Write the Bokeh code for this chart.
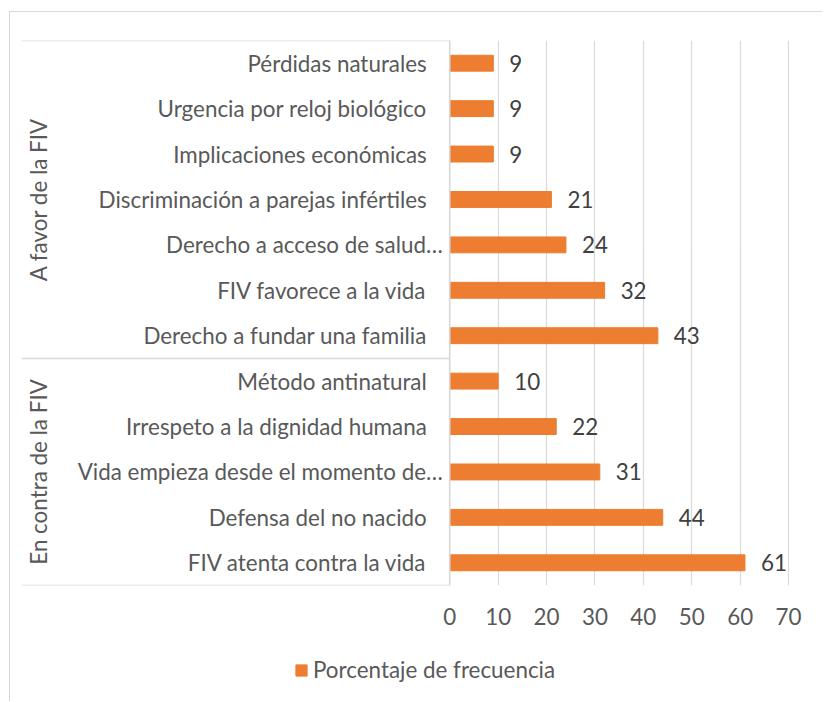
from bokeh.plotting import figure
from bokeh.layouts import column
from bokeh.models import Range1d, FixedTicker, Legend, LegendItem, ColumnDataSource
from bokeh.core.properties import value
from bokeh.embed import file_html
from bokeh.resources import INLINE
import math

# ---- data (top to bottom as in the chart) ----
groups = ["A favor de la FIV", "En contra de la FIV"]
favor_labels = ["Pérdidas naturales", "Urgencia por reloj biológico", "Implicaciones económicas",
                "Discriminación a parejas infértiles", "Derecho a acceso de salud…",
                "FIV favorece a la vida", "Derecho a fundar una familia"]
favor_values = [9, 9, 9, 21, 24, 32, 43]
contra_labels = ["Método antinatural", "Irrespeto a la dignidad humana",
                 "Vida empieza desde el momento de…", "Defensa del no nacido",
                 "FIV atenta contra la vida"]
contra_values = [10, 22, 31, 44, 61]
x_ticks = [0, 10, 20, 30, 40, 50, 60, 70]
series_name = "Porcentaje de frecuencia"

labels = favor_labels + contra_labels
values = favor_values + contra_values
n = len(labels)
ys = [n - 1 - i for i in range(n)]

FONT = value("Lato")
FS = "22.4px"
BAR = "#ED7D31"
GRID = "#d9d9d9"
TXT = "#595959"

x_start = -88.5
p = figure(frame_width=768, frame_height=545, output_backend="svg", toolbar_location=None,
           x_range=Range1d(x_start, 70.2), y_range=Range1d(-0.5, n - 0.5),
           y_axis_location=None, min_border_left=11, min_border_right=33,
           min_border_top=28, min_border_bottom=50)
p.outline_line_color = None
p.background_fill_color = "white"
p.border_fill_color = "white"

# grid
p.ygrid.visible = False
p.xgrid.ticker = FixedTicker(ticks=x_ticks)
p.xgrid.grid_line_color = GRID
p.xgrid.grid_line_width = 1.2

# x axis
ax = p.xaxis[0]
ax.ticker = FixedTicker(ticks=x_ticks)
ax.axis_line_color = None
ax.major_tick_line_color = None
ax.minor_tick_line_color = None
ax.major_label_text_font = "Lato"
ax.major_label_text_font_size = FS
ax.major_label_text_color = TXT
ax.major_label_standoff = 16

src = ColumnDataSource(dict(y=ys, v=values, lab=labels,
                            off=[-7 if s.endswith("…") else -23 for s in labels],
                            vs=[str(v) for v in values]))

bars = p.hbar(y="y", right="v", left=0, height=0.35, source=src,
              fill_color=BAR, line_color=BAR)

# category labels
p.text(x=0, y="y", text="lab", x_offset="off", source=src, text_align="right",
       text_baseline="middle", text_font=FONT, text_font_size=FS, text_color=TXT)
# data labels
p.text(x="v", y="y", text="vs", x_offset=16, source=src, text_align="left",
       text_baseline="middle", text_font=FONT, text_font_size=FS, text_color="#404040")

# group labels
n_f = len(favor_labels)
n_c = len(contra_labels)
gy = [n_c + (n_f - 1) / 2, (n_c - 1) / 2]
p.text(x=[x_start, x_start], y=gy, text=groups, x_offset=17, angle=math.pi / 2,
       text_align="center", text_baseline="middle", text_font=FONT,
       text_font_size=FS, text_color=TXT)

# group separators and category axis line
sep_y = [n - 0.5, n_c - 0.5, -0.5]
p.segment(x0=[x_start] * 3, x1=[0] * 3, y0=sep_y, y1=sep_y, line_color=GRID, line_width=1.5)
p.segment(x0=[0], x1=[0], y0=[-0.5], y1=[n - 0.5], line_color=GRID, line_width=1.5)

# legend strip: a small figure whose (out-of-view) copy of the bars feeds the key
lf = figure(width=812, height=66, output_backend="svg", toolbar_location=None,
            x_axis_location=None, y_axis_location=None, min_border=0,
            x_range=Range1d(1000, 1001), y_range=Range1d(1000, 1001))
lf.outline_line_color = None
lf.grid.visible = False
key = lf.hbar(y="y", right="v", left=0, height=0.35, source=src,
              fill_color=BAR, line_color=BAR)
leg = Legend(items=[LegendItem(label=series_name, renderers=[key])], location=(273, 18),
             orientation="horizontal", glyph_width=14, glyph_height=14, label_standoff=5,
             label_text_font="Lato", label_text_font_size=FS, label_text_color=TXT,
             border_line_color=None, background_fill_alpha=0, margin=0, padding=0)
lf.add_layout(leg, "center")

lay = column(p, lf, spacing=0)
lay.margin = (11, 0, 0, 9)
lay.styles = {"border-top": "1.5px solid #d9d9d9", "border-left": "1.5px solid #d9d9d9"}

open("out.html", "w").write(file_html(lay, INLINE))
